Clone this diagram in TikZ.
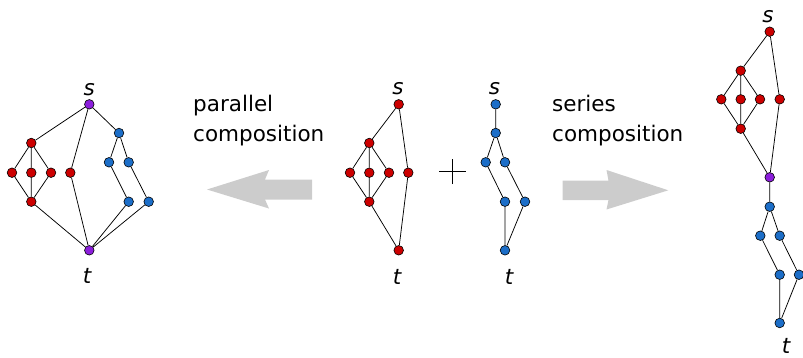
\documentclass[tikz,border=0pt]{standalone}
\usepackage{fontspec}
\setmainfont{DejaVu Sans}
\definecolor{cred}{RGB}{204,0,0}
\definecolor{cblue}{RGB}{28,110,200}
\definecolor{cpurp}{RGB}{140,30,220}
\definecolor{cgray}{RGB}{204,204,204}
\begin{document}
\begin{tikzpicture}[x=1pt,y=-1pt,
  vtx/.style={circle,draw=black,line width=0.6pt,inner sep=0pt,minimum size=9.6pt},
  rnode/.style={vtx,fill=cred},
  bnode/.style={vtx,fill=cblue},
  pnode/.style={vtx,fill=cpurp},
  edge/.style={line width=0.75pt,draw=black},
  lab/.style={font=\fontsize{21.5}{26}\selectfont\itshape,inner sep=0pt,anchor=base},
  captext/.style={font=\fontsize{21.5}{30}\selectfont,inner sep=0pt,anchor=base west,align=left},
  bigarrow/.style={fill=cgray,draw=none}]
\useasboundingbox (0,0) rectangle (803,357);

% ---------- parallel composition result (left)
\node[pnode] (As) at (89.3,104.3) {};
\node[pnode] (At) at (89.3,250.3) {};
\node[rnode] (Ar1) at (31.3,143) {};
\node[rnode] (Ar2) at (12,172.7) {};
\node[rnode] (Ar3) at (31.3,172.7) {};
\node[rnode] (Ar4) at (51,172.7) {};
\node[rnode] (Ar5) at (31.3,201.7) {};
\node[rnode] (Ar6) at (70.3,172.7) {};
\node[bnode] (Ab1) at (119,133) {};
\node[bnode] (Ab2) at (109,162.3) {};
\node[bnode] (Ab3) at (128.7,162.3) {};
\node[bnode] (Ab4) at (128.7,201.7) {};
\node[bnode] (Ab5) at (148.7,201.7) {};
\draw[edge] (As) -- (Ar1) (As) -- (Ar6) (As) -- (Ab1)
  (Ar1) -- (Ar2) (Ar1) -- (Ar3) (Ar1) -- (Ar4)
  (Ar2) -- (Ar5) (Ar3) -- (Ar5) (Ar4) -- (Ar5)
  (Ar5) -- (At) (Ar6) -- (At)
  (Ab1) -- (Ab2) (Ab1) -- (Ab3) (Ab2) -- (Ab4) (Ab3) -- (Ab5)
  (Ab4) -- (At) (Ab5) -- (At);
\node[lab] (Als) at (89.3,95) {s};
\node[lab] (Alt) at (87,283) {t};

% ---------- middle red graph
\node[rnode] (Bs) at (398.7,104.3) {};
\node[rnode] (Br1) at (369.3,143) {};
\node[rnode] (Br2) at (350,172.7) {};
\node[rnode] (Br3) at (369.3,172.7) {};
\node[rnode] (Br4) at (389,172.7) {};
\node[rnode] (Br5) at (369.3,201.7) {};
\node[rnode] (Br6) at (408.3,172.7) {};
\node[rnode] (Bt) at (398.7,250.3) {};
\draw[edge] (Bs) -- (Br1) (Bs) -- (Br6)
  (Br1) -- (Br2) (Br1) -- (Br3) (Br1) -- (Br4)
  (Br2) -- (Br5) (Br3) -- (Br5) (Br4) -- (Br5)
  (Br5) -- (Bt) (Br6) -- (Bt);
\node[lab] (Bls) at (398,94) {s};
\node[lab] (Blt) at (397,284) {t};

% ---------- plus sign
\coordinate (plus) at (452.7,171.7);
\draw[line width=1.3pt] ([xshift=-13.5pt]plus) -- ([xshift=13.5pt]plus)
  ([yshift=-12.5pt]plus) -- ([yshift=12.5pt]plus);

% ---------- middle blue graph
\node[bnode] (Cs) at (495.7,104.3) {};
\node[bnode] (Cb1) at (495.7,133) {};
\node[bnode] (Cb2) at (485.7,162.3) {};
\node[bnode] (Cb3) at (505,162.3) {};
\node[bnode] (Cb4) at (505,201.7) {};
\node[bnode] (Cb5) at (525,201.7) {};
\node[bnode] (Ct) at (505,250.3) {};
\draw[edge] (Cs) -- (Cb1) (Cb1) -- (Cb2) (Cb1) -- (Cb3)
  (Cb2) -- (Cb4) (Cb3) -- (Cb5) (Cb4) -- (Ct) (Cb5) -- (Ct);
\node[lab] (Cls) at (494.5,94) {s};
\node[lab] (Clt) at (509,284) {t};

% ---------- series composition result (right)
\node[rnode] (Ds) at (769.7,31.7) {};
\node[rnode] (Dr1) at (740.7,70.7) {};
\node[rnode] (Dr2) at (721.3,99.3) {};
\node[rnode] (Dr3) at (740.7,99.3) {};
\node[rnode] (Dr4) at (760,99.3) {};
\node[rnode] (Dr5) at (740.7,128.7) {};
\node[rnode] (Dr6) at (779.7,99.3) {};
\node[pnode] (Dm) at (769.7,177.3) {};
\node[bnode] (Db1) at (769.7,206.7) {};
\node[bnode] (Db2) at (760.3,235.7) {};
\node[bnode] (Db3) at (779.7,235.7) {};
\node[bnode] (Db4) at (779.7,274.7) {};
\node[bnode] (Db5) at (799,274.7) {};
\node[bnode] (Dt) at (779.7,323) {};
\draw[edge] (Ds) -- (Dr1) (Ds) -- (Dr6)
  (Dr1) -- (Dr2) (Dr1) -- (Dr3) (Dr1) -- (Dr4)
  (Dr2) -- (Dr5) (Dr3) -- (Dr5) (Dr4) -- (Dr5)
  (Dr5) -- (Dm) (Dr6) -- (Dm)
  (Dm) -- (Db1) (Db1) -- (Db2) (Db1) -- (Db3)
  (Db2) -- (Db4) (Db3) -- (Db5) (Db4) -- (Dt) (Db5) -- (Dt);
\node[lab] (Dls) at (768,22.7) {s};
\node[lab] (Dlt) at (786,353) {t};

% ---------- captions
\node[captext] (par) at (193,141) {parallel\\composition};
\node[captext] (ser) at (552,141) {series\\composition};

% ---------- block arrows
\fill[bigarrow] (207,189.5) -- (269,170) -- (265,179.5) -- (312,179.5)
  -- (312,199.5) -- (265,199.5) -- (269,208.5) -- cycle;
\fill[bigarrow] (668.3,190.3) -- (606.5,170) -- (608.5,180.7) -- (562.7,180.7)
  -- (562.7,200) -- (608.5,200) -- (606.5,209.5) -- cycle;
\end{tikzpicture}
\end{document}
